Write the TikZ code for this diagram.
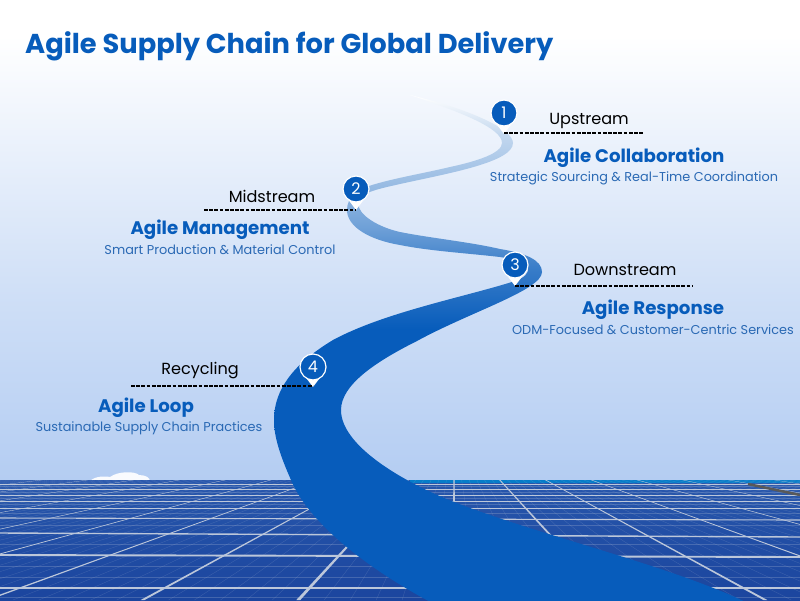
\documentclass[tikz,border=0pt]{standalone}
\usepackage{fontspec}
\setmainfont{Poppins}
\definecolor{brandblue}{HTML}{075CBB}
\definecolor{subblue}{HTML}{2A69B4}
\definecolor{skylow}{HTML}{B4CDF2}
\definecolor{panelhigh}{HTML}{2857AC}
\definecolor{panellow}{HTML}{1B459E}
\definecolor{panelline}{HTML}{BCC7DA}
\pgfdeclareverticalshading{skyshade}{100bp}{color(0bp)=(skylow); color(35bp)=(skylow); color(50bp)=(skylow!65!white); color(62bp)=(skylow!30!white); color(72bp)=(white); color(100bp)=(white)}
\pgfdeclareverticalshading{ribbonshade}{100bp}{color(0bp)=(brandblue); color(52bp)=(brandblue); color(58bp)=(brandblue!80!white); color(62bp)=(brandblue!58!white); color(66bp)=(brandblue!42!white); color(71bp)=(brandblue!25!white); color(75bp)=(white); color(100bp)=(white)}
\tikzset{
  pinbadge/.style={circle,fill=brandblue,draw=white,line width=1.2pt,text=white,minimum size=26pt,inner sep=0pt,font=\fontsize{16}{16}\selectfont},
  stagelabel/.style={text=black,inner sep=0pt,font=\fontsize{16.1}{18}\selectfont},
  agilehead/.style={text=brandblue,inner sep=0pt,font=\fontsize{18.2}{22}\selectfont\bfseries},
  agilesub/.style={text=subblue,inner sep=0pt,font=\fontsize{12.85}{16}\selectfont},
  stagedash/.style={black,line width=1.2pt,dash pattern=on 3.8pt off 1.4pt},
}
\begin{document}
\begin{tikzpicture}[x=1pt,y=-1pt]
  \useasboundingbox (0,0) rectangle (800,600);
  \shade[shading=skyshade] (0,0) rectangle (800,600);
  % cloud
  \fill[white!92!skylow] (90,481) .. controls (95,476) and (105,476) .. (110,477) .. controls (118,471) and (135,471) .. (139,475) .. controls (146,475) and (150,478) .. (150,481) -- cycle;
  % solar panels
  \begin{scope}
    \clip (0,480) rectangle (800,600);
    \shade[top color=panelhigh,bottom color=panellow] (0,480) rectangle (800,600);
    \fill[brandblue!80!cyan] (410,479) rectangle (800,483);
    \foreach \y in {486,492,498,504,513,525,544,566,577,597} {
      \draw[panelline,opacity=.25,line width=.4pt] (0,\y) -- (800,\y);
    }
    \foreach \k in {-60,...,48} {
      \draw[panelline,opacity=.2,line width=.35pt] ({454+45.8*\k/6},480) -- ({454+155.7*\k/6},600);
    }
    \foreach \yl/\yr/\w in {484/484/.4,489/489/.5,495/495/.6,501/501/.7,508/508/.9,518/520/1.1,533/537/1.4,555/557/1.9,588/588/2.6} {
      \draw[panelline,line width=\w pt] (0,\yl) -- (800,\yr);
    }
    \foreach \k in {-10,...,8} {
      \fill[panelline] ({454+45.8*\k-.6},480) -- ({454+45.8*\k+.6},480) -- ({454+155.7*\k+2},600) -- ({454+155.7*\k-2},600) -- cycle;
    }
    \draw[gray!70!black,line width=2.5pt] (748,484) -- (800,495);
  \end{scope}
  % ribbon
  \shade[shading=ribbonshade] (410,95)
    .. controls (465,108) and (513,128) .. (513,143)
    .. controls (513,162) and (450,173) .. (400,184)
    .. controls (378,189) and (358,193) .. (358,203)
    .. controls (358,215) and (378,227) .. (400,232)
    .. controls (430,238) and (470,242) .. (500,249)
    .. controls (525,253) and (542,260) .. (542,272)
    .. controls (542,290) and (470,312) .. (417,341)
    .. controls (375,362) and (341,385) .. (341,410)
    .. controls (341,445) and (400,480) .. (449,500)
    .. controls (540,536) and (670,565) .. (750,604)
    -- (434,604)
    .. controls (370,570) and (310,525) .. (291,480)
    .. controls (280,455) and (274,437) .. (274,420)
    .. controls (274,385) and (300,360) .. (333,340)
    .. controls (385,312) and (465,297) .. (515,281)
    .. controls (524,278) and (529,273) .. (528,268)
    .. controls (526,261) and (512,259) .. (500,257)
    .. controls (465,253) and (430,251) .. (400,245)
    .. controls (370,240) and (347,227) .. (347,210)
    .. controls (347,197) and (358,189) .. (372,185)
    .. controls (395,178) and (425,173) .. (450,167)
    .. controls (478,161) and (502,153) .. (502,143)
    .. controls (502,128) and (460,112) .. (410,95) -- cycle;
  % pin tips
  \foreach \x/\y in {504/134,356/210,515/286,313/387} {
    \fill[white] (\x,\y) -- ++(-9,-12) -- ++(18,0) -- cycle;
  }
  \draw
    (504,113) node[pinbadge] (1){1}
    (356,189) node[pinbadge] (2){2}
    (515,265) node[pinbadge] (3){3}
    (313,367) node[pinbadge] (4){4};
  % labels
  \node[stagelabel] (upstream) at (589,121) {Upstream};
  \node[agilehead] (collab) at (634,158) {Agile Collaboration};
  \node[agilesub] (collabsub) at (634,178) {Strategic Sourcing \& Real-Time Coordination};
  \node[stagelabel] (midstream) at (272,196) {Midstream};
  \node[agilehead] (manage) at (220,230) {Agile Management};
  \node[agilesub] (managesub) at (220,250) {Smart Production \& Material Control};
  \node[stagelabel] (downstream) at (625,270) {Downstream};
  \node[agilehead] (response) at (653,310) {Agile Response};
  \node[agilesub] (responsesub) at (653,330) {ODM-Focused \& Customer-Centric Services};
  \node[stagelabel] (recycling) at (200,371) {Recycling};
  \node[agilehead] (loop) at (146,408) {Agile Loop};
  \node[agilesub] (loopsub) at (149,428) {Sustainable Supply Chain Practices};
  \node[anchor=west,text=brandblue,inner sep=0pt,font=\fontsize{27.3}{32}\selectfont\bfseries] (title) at (25,46) {Agile Supply Chain for Global Delivery};
  % dashes
  \coordinate (dash1) at (643,133);
  \coordinate (dash2) at (204,210);
  \coordinate (dash3) at (693,286);
  \coordinate (dash4) at (131,386);
  \draw[stagedash] (1.south |- dash1) -- (dash1);
  \draw[stagedash] (dash2) -- (2.south |- dash2);
  \draw[stagedash] (3.south |- dash3) -- (dash3);
  \draw[stagedash] (dash4) -- (4.south |- dash4);
\end{tikzpicture}
\end{document}
